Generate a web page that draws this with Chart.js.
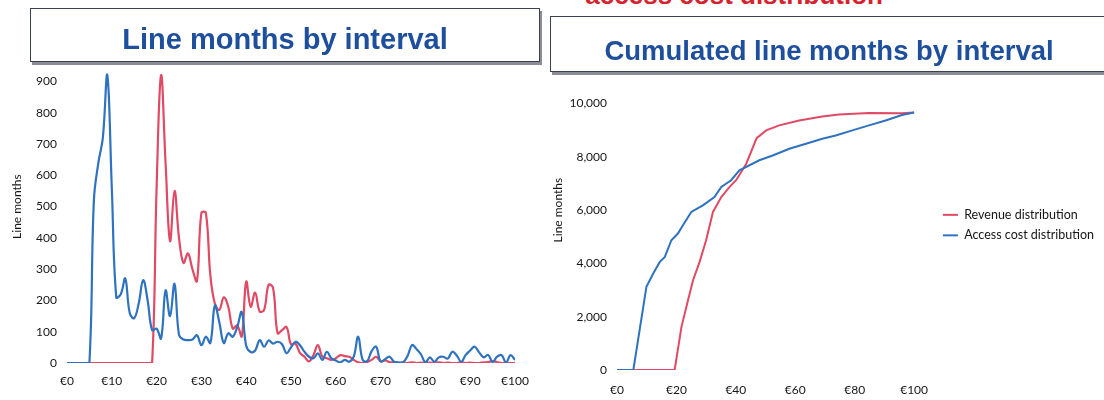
<!DOCTYPE html>
<html>
<head>
<meta charset="utf-8">
<title>Line months by interval</title>
<script src="https://cdn.jsdelivr.net/npm/chart.js@4.4.0/dist/chart.umd.min.js"></script>
<style>
  html, body { margin: 0; padding: 0; background: #fff; }
  body { width: 1104px; height: 400px; position: relative; overflow: hidden; font-family: "Liberation Sans", Arial, sans-serif; }
  #topline { position: absolute; right: 221px; top: -18px; font-weight: bold; font-size: 26px; line-height: 26px; color: #d4232f; white-space: nowrap; }
  .tbox { position: absolute; background: #fff; border: 1.5px solid #3c3f4d; box-shadow: 2px 3px 0 #8a8d96; color: #1e4f9c; font-weight: bold; text-align: center; z-index: 2; white-space: nowrap; }
  #box1 { left: 30px; top: 8px; width: 508px; height: 52px; font-size: 29px; line-height: 61px; }
  #box2 { left: 550px; top: 16px; width: 556px; height: 54px; font-size: 27.5px; line-height: 68px; padding-right: 30px; }
  .wrap { position: absolute; top: 33px; height: 367px; z-index: 1; }
  #wrap1 { left: 0; width: 545px; }
  #wrap2 { left: 400px; width: 704px; }
</style>
</head>
<body>
<div id="topline">access cost distribution</div>
<div class="tbox" id="box1">Line months by interval</div>
<div class="tbox" id="box2">Cumulated line months by interval</div>
<div class="wrap" id="wrap1"><canvas id="monthsChart" width="545" height="367"></canvas></div>
<div class="wrap" id="wrap2"><canvas id="cumChart" width="704" height="367"></canvas></div>

<script>
// price intervals (EUR per line per month)
const prices = [
    0, 1, 2, 3, 4, 5, 6, 7, 8, 9, 10, 11, 12, 13, 14, 15, 16, 17, 18, 19,
    20, 21, 22, 23, 24, 25, 26, 27, 28, 29, 30, 31, 32, 33, 34, 35, 36, 37, 38, 39,
    40, 41, 42, 43, 44, 45, 46, 47, 48, 49, 50, 51, 52, 53, 54, 55, 56, 57, 58, 59,
    60, 61, 62, 63, 64, 65, 66, 67, 68, 69, 70, 71, 72, 73, 74, 75, 76, 77, 78, 79,
    80, 81, 82, 83, 84, 85, 86, 87, 88, 89, 90, 91, 92, 93, 94, 95, 96, 97, 98, 99,
    100
];

// line months per interval
const revenueMonths = [
    0, 0, 0, 0, 0, 0, 0, 0, 0, 0, 0, 0, 0, 0, 0, 0, 0, 0, 0, 0,
    560, 920, 640, 390, 550, 400, 320, 350, 300, 262, 480, 480, 280, 190, 170, 210, 180, 110, 120, 85,
    260, 180, 225, 165, 170, 250, 240, 95, 105, 115, 60, 62, 32, 20, 5, 25, 57, 20, 15, 10,
    15, 25, 22, 20, 10, 2, 0, 3, 10, 20, 6, 8, 3, 2, 0, 1, 0, 2, 0, 1,
    0, 1, 0, 2, 0, 1, 0, 0, 2, 0, 1, 0, 0, 2, 3, 6, 3, 0, 0, 0,
    0
];
const accessMonths = [
    0, 0, 0, 0, 0, 0, 520, 640, 720, 920, 560, 210, 220, 270, 160, 143, 190, 265, 200, 105,
    110, 78, 232, 150, 253, 90, 75, 73, 75, 89, 57, 84, 64, 184, 130, 64, 95, 84, 115, 163,
    55, 35, 40, 73, 52, 72, 62, 68, 60, 31, 50, 68, 57, 36, 20, 15, 31, 10, 36, 15,
    8, 2, 10, 4, 20, 84, 10, 6, 38, 52, 5, 12, 20, 4, 2, 2, 22, 57, 45, 28,
    2, 18, 4, 18, 20, 14, 36, 24, 4, 26, 40, 52, 34, 18, 26, 3, 20, 25, 2, 25,
    10
];

// cumulated line months, read at the break points of each curve
const revenueCumPrices = [0, 19.4, 21.7, 23.9, 25.6, 27.8, 30, 32.3, 35.1, 37.9, 40.1, 43.5, 47, 50.2, 54.6, 61.3, 69.1, 74.7, 84.8, 95.9, 100];
const revenueCum = [0, 0, 1620, 2620, 3370, 4056, 4870, 5930, 6490, 6870, 7120, 7740, 8700, 8990, 9180, 9360, 9510, 9590, 9640, 9630, 9660];
const accessCumPrices = [0, 5.5, 9.9, 12.2, 14.4, 16.1, 18.3, 20.5, 22.2, 25, 28.9, 32.8, 35.1, 38.4, 41.2, 47.9, 52.4, 58, 63.6, 69.1, 73.6, 79.2, 84.8, 90.4, 95.9, 100];
const accessCum = [0, 0, 3120, 3620, 4056, 4243, 4870, 5120, 5430, 5930, 6180, 6490, 6870, 7120, 7490, 7870, 8050, 8300, 8490, 8680, 8800, 8990, 9180, 9360, 9570, 9660];

// tick labels
const monthsXTicks = [0, 10, 20, 30, 40, 50, 60, 70, 80, 90, 100];
const monthsYTicks = [0, 100, 200, 300, 400, 500, 600, 700, 800, 900];
const cumXTicks = [0, 20, 40, 60, 80, 100];
const cumYTicks = [0, 2000, 4000, 6000, 8000, 10000];

const seriesNames = ['Revenue distribution', 'Access cost distribution'];
const RED = '#e04a64';
const BLUE = '#2f72bf';
const TEXT = '#161616';

Chart.defaults.font.family = 'Lato, "Open Sans", sans-serif';
Chart.defaults.color = TEXT;

function toPoints(xs, ys) {
    return xs.map((x, i) => ({ x: x, y: ys[i] }));
}

function withCommas(v) {
    return String(v).replace(/\B(?=(\d{3})+(?!\d))/g, ',');
}

function fixedTicks(values) {
    return scale => { scale.ticks = values.map(v => ({ value: v })); };
}

// Left: line months by interval
new Chart(document.getElementById('monthsChart'), {
    type: 'line',
    data: {
        datasets: [
            {
                label: seriesNames[0],
                data: toPoints(prices, revenueMonths),
                borderColor: RED,
                borderWidth: 2.2,
                pointRadius: 0,
                tension: 0.4,
                order: 1
            },
            {
                label: seriesNames[1],
                data: toPoints(prices, accessMonths),
                borderColor: BLUE,
                borderWidth: 2.2,
                pointRadius: 0,
                tension: 0.4,
                order: 0
            }
        ]
    },
    options: {
        responsive: false,
        animation: false,
        layout: { padding: { top: 2, right: 30, bottom: 0, left: 0 } },
        plugins: { legend: { display: false }, tooltip: { enabled: false } },
        scales: {
            x: {
                type: 'linear',
                min: 0,
                max: 100,
                grid: { display: false, drawTicks: false },
                border: { display: false },
                afterBuildTicks: fixedTicks(monthsXTicks),
                ticks: {
                    autoSkip: false,
                    maxRotation: 0,
                    padding: 11,
                    font: { size: 12 },
                    callback: v => '€' + v
                },
                afterFit: scale => { scale.height = 37; }
            },
            y: {
                min: 0,
                max: 1000,
                grid: { display: false, drawTicks: false },
                border: { display: false },
                afterBuildTicks: fixedTicks(monthsYTicks),
                ticks: {
                    padding: 10,
                    font: { size: 12 }
                },
                title: { display: true, text: 'Line months', font: { size: 12 }, padding: { top: 10, bottom: 0 } },
                afterFit: scale => { scale.width = 67; }
            }
        }
    }
});

// Right: cumulated line months by interval
new Chart(document.getElementById('cumChart'), {
    type: 'line',
    data: {
        datasets: [
            {
                label: seriesNames[0],
                data: toPoints(revenueCumPrices, revenueCum),
                borderColor: RED,
                backgroundColor: RED,
                borderWidth: 2,
                pointRadius: 0,
                tension: 0,
                order: 1
            },
            {
                label: seriesNames[1],
                data: toPoints(accessCumPrices, accessCum),
                borderColor: BLUE,
                backgroundColor: BLUE,
                borderWidth: 2,
                pointRadius: 0,
                tension: 0,
                order: 0
            }
        ]
    },
    options: {
        responsive: false,
        animation: false,
        layout: { padding: { top: 2, right: 0, bottom: 0, left: 0 } },
        plugins: {
            tooltip: { enabled: false },
            legend: {
                position: 'right',
                title: { display: true, text: ' ', font: { size: 1 }, padding: { top: 7, bottom: 7 } },
                labels: {
                    usePointStyle: true,
                    pointStyle: 'line',
                    pointStyleWidth: 15,
                    padding: 8,
                    font: { size: 12.5 },
                    color: TEXT,
                    sort: (a, b) => a.datasetIndex - b.datasetIndex
                }
            }
        },
        scales: {
            x: {
                type: 'linear',
                min: 0,
                max: 107,
                grid: { display: false, drawTicks: false },
                border: { display: false },
                afterBuildTicks: fixedTicks(cumXTicks),
                ticks: {
                    autoSkip: false,
                    maxRotation: 0,
                    padding: 13,
                    font: { size: 12 },
                    callback: v => '€' + v
                },
                afterFit: scale => { scale.height = 30; }
            },
            y: {
                min: 0,
                max: 12000,
                grid: { display: false, drawTicks: false },
                border: { display: false },
                afterBuildTicks: fixedTicks(cumYTicks),
                ticks: {
                    padding: 10,
                    font: { size: 12 },
                    callback: v => withCommas(v)
                },
                title: { display: true, text: 'Line months', font: { size: 12 }, padding: { top: 151, bottom: 0 } },
                afterFit: scale => { scale.width = 217; }
            }
        }
    }
});
</script>
</body>
</html>
